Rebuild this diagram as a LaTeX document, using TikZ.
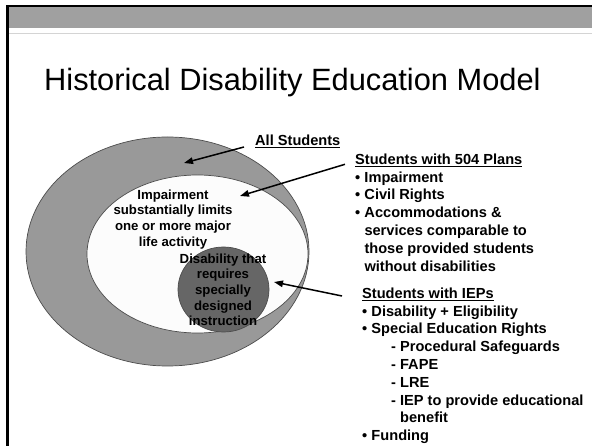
\documentclass[tikz,border=0pt]{standalone}
\usepackage{fontspec}
\setmainfont{Liberation Sans}
\usetikzlibrary{arrows.meta,shapes.geometric}

\newcommand{\headul}[1]{\setbox0\hbox{#1}\rlap{\rule[-2.7pt]{\wd0}{1.3pt}}\box0}
\newcommand{\bul}{\makebox[9.3pt][l]{\textbullet}}

\begin{document}
\begin{tikzpicture}[x=1pt,y=-1pt,
    pointer/.style={line width=1.5pt,-{Triangle[length=9pt,width=6.5pt]}},
    setshape/.style={ellipse,draw=black!70,line width=0.7pt,inner sep=0pt},
    bodytext/.style={font=\bfseries\fontsize{14.6}{17.8}\selectfont,inner sep=0pt,anchor=base west},
    setlabel/.style={font=\bfseries\fontsize{13.2}{15.6}\selectfont,inner sep=0pt,anchor=base}]
    % Define colors
    \definecolor{bandgray}{RGB}{160,160,160}
    \definecolor{rulegray}{RGB}{212,212,212}
    \definecolor{ringgray}{RGB}{153,153,153}
    \definecolor{corewhite}{RGB}{252,252,252}
    \definecolor{iepgray}{RGB}{102,102,102}

    \useasboundingbox (0,0) rectangle (592,446);

    % Slide frame
    \fill[bandgray] (8,6) rectangle (592,28.5);
    \draw[rulegray,line width=1pt] (9,33.5) -- (592,33.5);
    \draw[line width=2.5pt] (7.5,446) -- (7.5,6) -- (592,6);

    % Title
    \node[font=\fontsize{30.8}{36}\selectfont,inner sep=0pt,anchor=base west] (title) at (44,91) {Historical Disability Education Model};

    % Sets
    \node[setshape,fill=ringgray,minimum width=283pt,minimum height=229pt] (allset) at (167.5,251.5) {};
    \node[setshape,fill=corewhite,minimum width=221pt,minimum height=158pt] (set504) at (197.5,254) {};
    \node[setshape,fill=iepgray,minimum width=91pt,minimum height=85pt] (setIEP) at (223.5,289.5) {};

    % Set labels
    \node[setlabel] (impair) at (173,199.3) {\begin{tabular}[t]{@{}c@{}}
        Impairment\\ substantially limits\\ one or more major\\ life activity
        \end{tabular}};
    \node[setlabel] (sdi) at (223,263.3) {\begin{tabular}[t]{@{}c@{}}
        Disability that\\ requires\\ specially\\ designed\\ instruction
        \end{tabular}};

    % Labels
    \node[bodytext] (allstud) at (255,145.7) {\headul{All Students}};
    \node[bodytext] (h504) at (355,164.3) {\headul{Students with 504 Plans}};
    \node[bodytext] (l504) at (355,182.1) {\begin{tabular}[t]{@{}l@{}}
        \bul Impairment\\
        \bul Civil Rights\\
        \bul Accommodations \&\\
        \hspace*{9.3pt}services comparable to\\
        \hspace*{9.3pt}those provided students\\
        \hspace*{9.3pt}without disabilities
        \end{tabular}};
    \node[bodytext] (hIEP) at (362,298.3) {\headul{Students with IEPs}};
    \node[bodytext] (lIEP) at (362,316.1) {\begin{tabular}[t]{@{}l@{}}
        \bul Disability + Eligibility\\
        \bul Special Education Rights\\
        \hspace*{29pt}- Procedural Safeguards\\
        \hspace*{29pt}- FAPE\\
        \hspace*{29pt}- LRE\\
        \hspace*{29pt}- IEP to provide educational\\
        \hspace*{38pt}benefit\\
        \bul Funding
        \end{tabular}};

    % Pointers
    \coordinate (pAll) at (184,163);
    \coordinate (p504) at (240,196);
    \coordinate (pIEP) at (274,282);
    \draw[pointer] ([xshift=-11pt,yshift=-1.3pt]allstud.base west) -- (pAll);
    \draw[pointer] ([xshift=-10pt]h504.base west) -- (p504);
    \draw[pointer] ([xshift=-20pt,yshift=2.3pt]hIEP.base west) -- (pIEP);
\end{tikzpicture}
\end{document}
